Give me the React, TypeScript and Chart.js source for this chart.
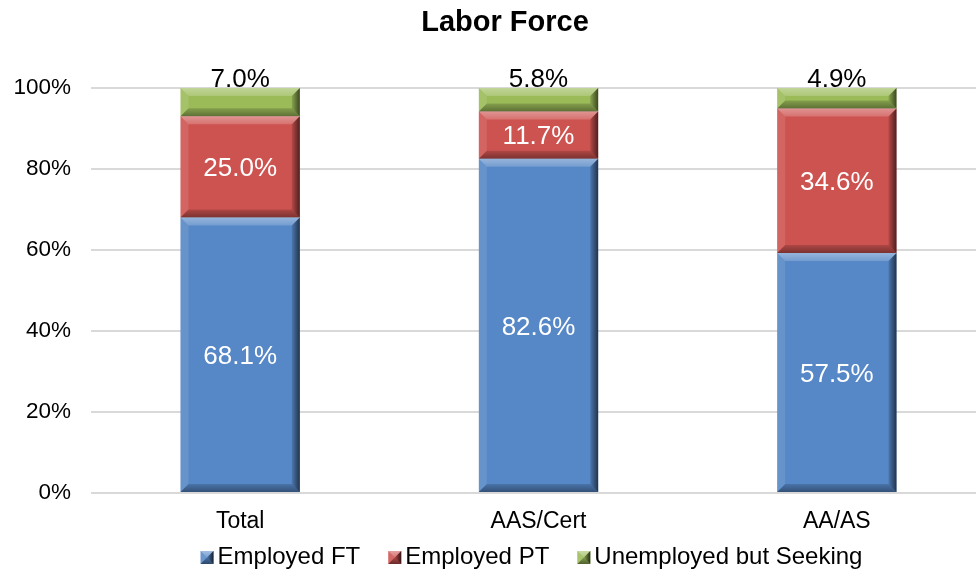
import React, { useEffect, useRef } from "react";
import { Chart, registerables } from "chart.js";

Chart.register(...registerables);

const categories = ["Total", "AAS/Cert", "AA/AS"];
const seriesNames = ["Employed FT", "Employed PT", "Unemployed but Seeking"];
const employedFT = [68.1, 82.6, 57.5];
const employedPT = [25.0, 11.7, 34.6];
const unemployedSeeking = [7.0, 5.8, 4.9];
const seriesColors = ["#5687C6", "#CD5350", "#9BBB59"];
const labelColors = ["#FFFFFF", "#FFFFFF", "#000000"];
const chartTitle = "Labor Force";

const FONT = '"Liberation Sans", Arial, sans-serif';
const W = 990;
const H = 569;

function poly(ctx: CanvasRenderingContext2D, pts: number[][], fill: any) {
  ctx.beginPath();
  ctx.moveTo(pts[0][0], pts[0][1]);
  for (let i = 1; i < pts.length; i++) ctx.lineTo(pts[i][0], pts[i][1]);
  ctx.closePath();
  ctx.fillStyle = fill;
  ctx.fill();
}

function bevel(ctx: CanvasRenderingContext2D, x0: number, y0: number, x1: number, y1: number, b: number, strength = 1) {
  const w = x1 - x0;
  const h = y1 - y0;
  const bb = Math.max(0, Math.min(b, w / 2, h / 2));
  ctx.save();
  // top
  const gt = ctx.createLinearGradient(0, y0, 0, y0 + bb);
  gt.addColorStop(0, `rgba(255,255,255,${0.38 * strength})`);
  gt.addColorStop(1, `rgba(255,255,255,${0.18 * strength})`);
  poly(ctx, [[x0, y0], [x1, y0], [x1 - bb, y0 + bb], [x0 + bb, y0 + bb]], gt);
  // left
  poly(ctx, [[x0, y0], [x0 + bb, y0 + bb], [x0 + bb, y1 - bb], [x0, y1]], `rgba(255,255,255,${0.1 * strength})`);
  // right
  const g = ctx.createLinearGradient(x1 - bb, 0, x1, 0);
  g.addColorStop(0, `rgba(0,0,0,${0.12 * strength})`);
  g.addColorStop(1, `rgba(0,0,0,${0.62 * strength})`);
  poly(ctx, [[x1, y0], [x1, y1], [x1 - bb, y1 - bb], [x1 - bb, y0 + bb]], g);
  // bottom
  const gb = ctx.createLinearGradient(0, y1 - bb, 0, y1);
  gb.addColorStop(0, `rgba(0,0,0,${0.15 * strength})`);
  gb.addColorStop(1, `rgba(0,0,0,${0.4 * strength})`);
  poly(ctx, [[x0, y1], [x0 + bb, y1 - bb], [x1 - bb, y1 - bb], [x1, y1]], gb);
  ctx.restore();
}

const rawSeries = [employedFT, employedPT, unemployedSeeking];
const totals = categories.map((_, i) => rawSeries.reduce((s, arr) => s + arr[i], 0));

const decorPlugin = {
  id: "decor",
  afterDatasetsDraw(chart: any) {
    const ctx: CanvasRenderingContext2D = chart.ctx;
    chart.data.datasets.forEach((ds: any, di: number) => {
      const meta = chart.getDatasetMeta(di);
      meta.data.forEach((el: any) => {
        const p = el.getProps(["x", "y", "base", "width"], true);
        const x0 = p.x - p.width / 2;
        const x1 = p.x + p.width / 2;
        const y0 = Math.min(p.y, p.base);
        const y1 = Math.max(p.y, p.base);
        bevel(ctx, x0, y0, x1, y1, 8);
      });
    });
    // data labels
    ctx.save();
    ctx.font = `26px ${FONT}`;
    ctx.textAlign = "center";
    ctx.textBaseline = "alphabetic";
    chart.data.datasets.forEach((ds: any, di: number) => {
      const meta = chart.getDatasetMeta(di);
      meta.data.forEach((el: any, i: number) => {
        const p = el.getProps(["x", "y", "base"], true);
        const txt = rawSeries[di][i].toFixed(1) + "%";
        ctx.fillStyle = labelColors[di];
        let by;
        if (di === 2) by = Math.min(p.y, p.base) - 1;
        else by = (p.y + p.base) / 2 + 0.358 * 26;
        ctx.fillText(txt, p.x, by);
      });
    });
    ctx.restore();
  },
  afterDraw(chart: any) {
    const ctx: CanvasRenderingContext2D = chart.ctx;
    ctx.save();
    // title
    ctx.font = `bold 29px ${FONT}`;
    ctx.fillStyle = "#000000";
    ctx.textAlign = "center";
    ctx.textBaseline = "alphabetic";
    ctx.fillText(chartTitle, 505, 31);
    // legend
    ctx.font = `24px ${FONT}`;
    ctx.textAlign = "left";
    const box = 13, gapText = 4, gapItem = 28;
    const widths = seriesNames.map((n) => ctx.measureText(n).width);
    const total = widths.reduce((a, b) => a + b, 0) + seriesNames.length * (box + gapText) + (seriesNames.length - 1) * gapItem;
    let x = 531.5 - total / 2;
    seriesNames.forEach((n, i) => {
      ctx.fillStyle = seriesColors[i];
      ctx.fillRect(x, 551, box, box);
      bevel(ctx, x, 551, x + box, 551 + box, 6.5, 1.2);
      ctx.fillStyle = "#000000";
      ctx.fillText(n, x + box + gapText, 564);
      x += box + gapText + widths[i] + gapItem;
    });
    ctx.restore();
  },
};

export default function App() {
  const ref = useRef<HTMLCanvasElement | null>(null);
  useEffect(() => {
    document.documentElement.style.overflow = "hidden";
    document.body.style.overflow = "hidden";
    document.body.style.margin = "0";
    const canvas = ref.current!;
    const chart = new Chart(canvas, {
      type: "bar",
      data: {
        labels: categories,
        datasets: rawSeries.map((arr, di) => ({
          label: seriesNames[di],
          data: arr.map((v, i) => (v / totals[i]) * 100),
          backgroundColor: seriesColors[di],
          borderWidth: 0,
          barPercentage: 1,
          categoryPercentage: 0.4,
        })),
      },
      options: {
        responsive: false,
        animation: false,
        layout: { padding: { top: 88, right: 4, bottom: 0, left: 0 } },
        plugins: {
          legend: { display: false },
          title: { display: false },
          tooltip: { enabled: false },
        },
        scales: {
          x: {
            stacked: true,
            grid: { display: false, drawTicks: false },
            border: { display: false },
            ticks: { color: "#000000", font: { family: FONT, size: 23 }, padding: 15 },
            afterFit: (s: any) => {
              s.height = 76;
            },
          },
          y: {
            stacked: true,
            min: 0,
            max: 100,
            grid: { color: "#D9D9D9", lineWidth: 2, drawTicks: false },
            border: { display: false },
            ticks: {
              stepSize: 20,
              color: "#000000",
              font: { family: FONT, size: 22.5 },
              padding: 20,
              callback: (v: any) => v + "%",
            },
            afterFit: (s: any) => {
              s.width = 91;
            },
          },
        },
      },
      plugins: [decorPlugin],
    });
    return () => chart.destroy();
  }, []);
  return (
    <canvas
      ref={ref}
      width={W}
      height={H}
      style={{ position: "absolute", left: 0, top: 0, width: W + "px", height: H + "px", display: "block" }}
    />
  );
}
